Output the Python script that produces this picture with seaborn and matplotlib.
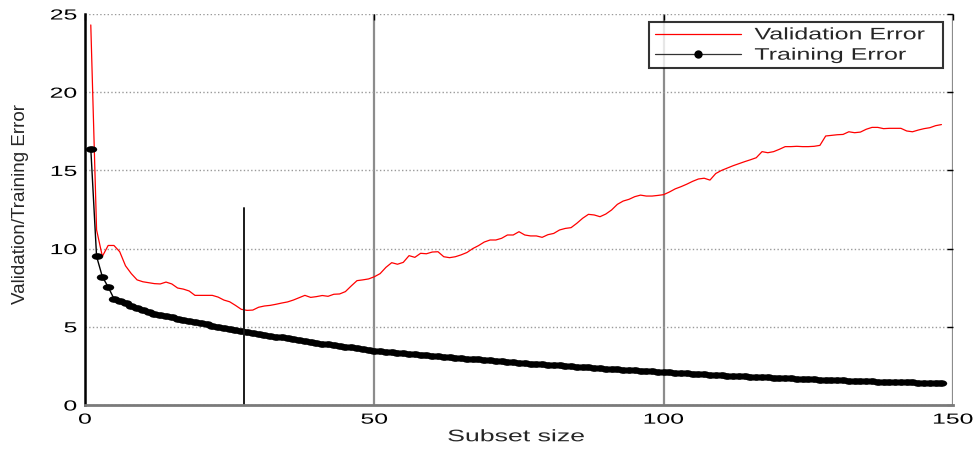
import matplotlib
matplotlib.use("Agg")
import matplotlib.pyplot as plt
import matplotlib.patheffects as patheffects
from matplotlib.markers import MarkerStyle
from matplotlib.path import Path
from matplotlib.transforms import Affine2D
import seaborn as sns
import pandas as pd

# Error curves against subset size
subset_size = list(range(1, 149))

validation_error = [
    24.3, 11.2, 9.5, 10.2, 10.2, 9.8, 8.9, 8.4, 8.0, 7.88,
    7.82, 7.76, 7.74, 7.86, 7.74, 7.48, 7.41, 7.29, 7.01, 7.01,
    7.01, 7.01, 6.9, 6.71, 6.6, 6.37, 6.12, 6.05, 6.07, 6.25,
    6.33, 6.37, 6.44, 6.52, 6.59, 6.71, 6.86, 7.01, 6.88, 6.93,
    7.0, 6.95, 7.08, 7.1, 7.25, 7.61, 7.95, 8.0, 8.06, 8.2,
    8.4, 8.8, 9.1, 9.0, 9.12, 9.55, 9.44, 9.7, 9.67, 9.78,
    9.8, 9.48, 9.42, 9.48, 9.6, 9.75, 10.0, 10.19, 10.42, 10.55,
    10.55, 10.66, 10.87, 10.87, 11.08, 10.87, 10.81, 10.81, 10.72, 10.89,
    10.97, 11.19, 11.29, 11.34, 11.62, 11.94, 12.19, 12.15, 12.04, 12.21,
    12.47, 12.83, 13.04, 13.15, 13.32, 13.42, 13.36, 13.36, 13.4, 13.45,
    13.62, 13.82, 13.96, 14.12, 14.3, 14.45, 14.5, 14.38, 14.8, 15.0,
    15.15, 15.3, 15.43, 15.56, 15.68, 15.81, 16.2, 16.13, 16.2, 16.35,
    16.52, 16.52, 16.54, 16.52, 16.52, 16.54, 16.6, 17.2, 17.24, 17.28,
    17.3, 17.47, 17.41, 17.45, 17.63, 17.75, 17.75, 17.67, 17.69, 17.69,
    17.69, 17.52, 17.47, 17.58, 17.67, 17.73, 17.86, 17.93,
]

training_error = [
    16.4, 9.5, 8.2, 7.55, 6.8, 6.65, 6.5, 6.35, 6.2, 6.05,
    5.95, 5.85, 5.76, 5.68, 5.6, 5.53, 5.46, 5.39, 5.32, 5.22,
    5.15, 5.08, 5.01, 4.94, 4.87, 4.8, 4.72, 4.65, 4.58, 4.52,
    4.47, 4.42, 4.37, 4.32, 4.26, 4.2, 4.15, 4.1, 4.04, 3.98,
    3.93, 3.88, 3.83, 3.78, 3.73, 3.68, 3.63, 3.58, 3.53, 3.48,
    3.45, 3.41, 3.38, 3.34, 3.31, 3.27, 3.24, 3.21, 3.18, 3.15,
    3.12, 3.09, 3.06, 3.03, 3.0, 2.97, 2.94, 2.91, 2.88, 2.85,
    2.82, 2.79, 2.76, 2.73, 2.7, 2.68, 2.65, 2.63, 2.6, 2.58,
    2.55, 2.53, 2.5, 2.48, 2.45, 2.43, 2.41, 2.38, 2.36, 2.33,
    2.31, 2.29, 2.26, 2.24, 2.22, 2.19, 2.17, 2.15, 2.12, 2.1,
    2.08, 2.06, 2.04, 2.02, 2.0, 1.98, 1.96, 1.94, 1.92, 1.9,
    1.88, 1.86, 1.85, 1.83, 1.81, 1.79, 1.78, 1.76, 1.75, 1.73,
    1.72, 1.7, 1.69, 1.67, 1.66, 1.64, 1.63, 1.62, 1.6, 1.59,
    1.58, 1.56, 1.55, 1.54, 1.53, 1.51, 1.5, 1.49, 1.48, 1.47,
    1.46, 1.45, 1.44, 1.43, 1.42, 1.41, 1.4, 1.4,
]

# Chosen subset size marker
best_size = 27.5
best_marker_top = 12.6

x_ticks = [0, 50, 100, 150]
y_ticks = [0, 5, 10, 15, 20, 25]


class WideText(patheffects.AbstractPathEffect):
    """Draw text glyphs widened horizontally about a chosen anchor."""

    def __init__(self, sx, anchor="center"):
        super().__init__()
        self.sx = sx
        self.anchor = anchor

    def draw_path(self, renderer, gc, tpath, affine, rgbFace=None):
        ext = tpath.get_extents(affine)
        if self.anchor == "left":
            x0 = ext.x0
        elif self.anchor == "right":
            x0 = ext.x1
        else:
            x0 = 0.5 * (ext.x0 + ext.x1)
        widened = affine + Affine2D().translate(-x0, 0).scale(self.sx, 1.0).translate(x0, 0)
        renderer.draw_path(gc, tpath, widened, rgbFace)


df = pd.DataFrame({
    "size": subset_size,
    "Validation Error": validation_error,
    "Training Error": training_error,
})

sns.set_theme(style="white")
plt.rcParams["font.family"] = ["Liberation Sans", "DejaVu Sans"]

fig = plt.figure(figsize=(9.79, 4.51), dpi=100)
ax = fig.add_axes([85 / 979, 46 / 451, 868 / 979, 391 / 451])

oval = MarkerStyle(Affine2D().scale(1.7, 1.0).transform_path(Path.unit_circle()))

sns.lineplot(data=df, x="size", y="Validation Error", ax=ax, color="red",
             linewidth=0.9, label="Validation Error")
sns.lineplot(data=df, x="size", y="Training Error", ax=ax, color="black",
             linewidth=1.0, marker=oval, markersize=8.2, markeredgewidth=0,
             label="Training Error")

ax.plot([best_size, best_size], [0, best_marker_top], color="#1a1a1a", linewidth=1.4)

ax.set_xlim(0, 150)
ax.set_ylim(0, 25)
ax.set_xticks(x_ticks)
ax.set_yticks(y_ticks)
ax.tick_params(axis="both", labelsize=10.5, direction="in", length=4,
               top=True, right=True, colors="black", width=1.0)
ax.tick_params(axis="x", pad=5.5)
ax.tick_params(axis="y", pad=5.8)

ax.xaxis.grid(True, color="#8c8c8c", linestyle="-", linewidth=1.6)
ax.yaxis.grid(True, color="#9a9a9a", linestyle=":", linewidth=1.0)

for side in ["top", "right"]:
    ax.spines[side].set_visible(False)
ax.spines["left"].set_color("black")
ax.spines["left"].set_linewidth(1.8)
ax.spines["bottom"].set_color("#7a7a7a")
ax.spines["bottom"].set_linewidth(2.0)

xl = ax.set_xlabel("Subset size", fontsize=12)
xl.set_path_effects([WideText(1.6, "center")])
ax.xaxis.set_label_coords(0.4965, -0.062)

ax.set_ylabel("Validation/Training Error", fontsize=13.5)
ax.yaxis.set_label_coords(-0.064, 0.515)

leg = ax.legend(loc="upper left", bbox_to_anchor=(0.65, 0.862, 0.3385, 0.1175),
                mode="expand", borderaxespad=0, fontsize=12, frameon=True,
                fancybox=False, edgecolor="black", handlelength=5.2,
                handletextpad=0.8, borderpad=0.32, labelspacing=0.32)
leg.get_frame().set_linewidth(1.5)
for t in leg.get_texts():
    t.set_path_effects([WideText(1.5, "left")])
for h in leg.legend_handles:
    h.set_linewidth(0.9)
leg.legend_handles[1].set_color("#333333")
leg.legend_handles[1].set_marker("o")
leg.legend_handles[1].set_markersize(6)
leg.legend_handles[1].set_markerfacecolor("black")

# Tick labels exist for sure once the figure has been laid out
fig.canvas.draw()
for tick in ax.xaxis.get_major_ticks():
    tick.label1.set_path_effects([WideText(1.7, "center")])
for tick in ax.yaxis.get_major_ticks():
    tick.label1.set_path_effects([WideText(1.7, "right")])

fig.savefig("out.png", dpi=100)
